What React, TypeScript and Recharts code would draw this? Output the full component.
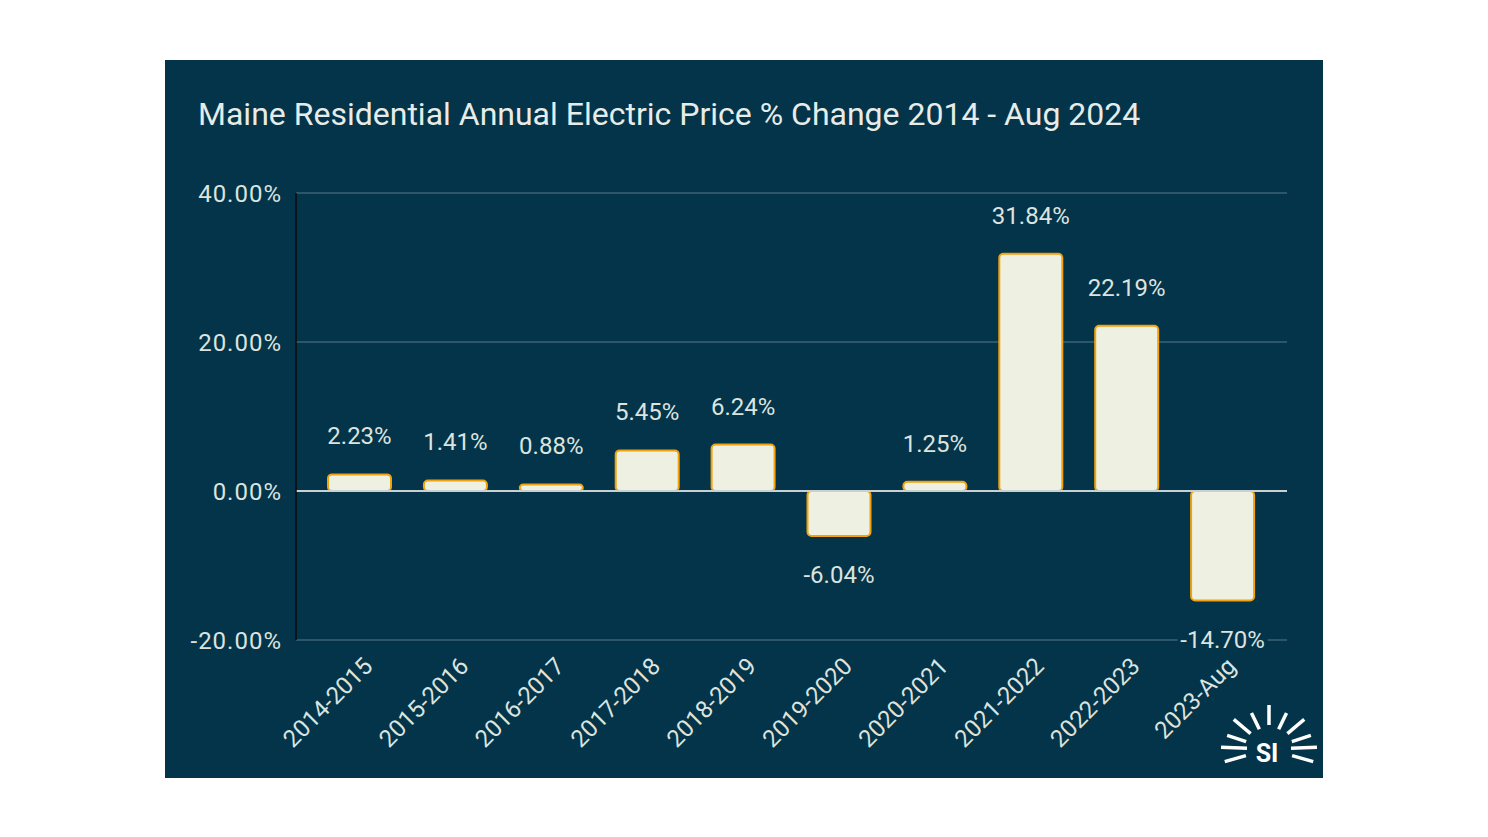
import React from "react";
import { BarChart, Bar, XAxis, YAxis, CartesianGrid, ReferenceLine, LabelList } from "recharts";

const categories = ["2014-2015", "2015-2016", "2016-2017", "2017-2018", "2018-2019", "2019-2020", "2020-2021", "2021-2022", "2022-2023", "2023-Aug"];
const changes = [2.23, 1.41, 0.88, 5.45, 6.24, -6.04, 1.25, 31.84, 22.19, -14.7];
const yTicks = [-20, 0, 20, 40];
const title = "Maine Residential Annual Electric Price % Change 2014 - Aug 2024";

const data = categories.map((c, i) => ({ name: c, value: changes[i] }));

const BG = "#03344a";
const TEXT = "#dde3df";
const FONT = "Roboto, sans-serif";

const fmt = (v: number) => `${v.toFixed(2)}%`;

const BarLabel = (props: any) => {
  const { x, y, width, height, value } = props;
  const top = Math.min(y, y + height);
  const bottom = Math.max(y, y + height);
  const cx = x + width / 2;
  const neg = value < 0;
  const ty = neg ? bottom + 47.5 : top - 30;
  const label = fmt(value);
  return (
    <g>
      {neg && (
        <rect x={cx - 45} y={ty - 20} width={90} height={26} fill={BG} />
      )}
      <text x={cx} y={ty} textAnchor="middle" fill={TEXT} fontSize={24} fontFamily={FONT}>
        {label}
      </text>
    </g>
  );
};

const XTick = (props: any) => {
  const { x, y, payload } = props;
  const ax = x + 8.5;
  const ay = y + 22;
  return (
    <text
      x={ax}
      y={ay}
      textAnchor="end"
      dominantBaseline="central"
      transform={`rotate(-45 ${ax} ${ay})`}
      fill={TEXT}
      fontSize={24}
      fontFamily={FONT}
    >
      {payload.value}
    </text>
  );
};

const rays = [
  { a: 90, r1: 24, r2: 44 },
  { a: 64, r1: 22, r2: 40 },
  { a: 116, r1: 22, r2: 40 },
  { a: 40, r1: 24, r2: 46 },
  { a: 140, r1: 24, r2: 46 },
  { a: 18, r1: 24, r2: 44 },
  { a: 162, r1: 24, r2: 44 },
  { a: 2, r1: 22, r2: 48 },
  { a: 178, r1: 22, r2: 48 },
  { a: -16, r1: 24, r2: 46 },
  { a: 196, r1: 24, r2: 46 },
];

export default function App() {
  const cx = 1104;
  const cy = 689;
  return (
    <div style={{ position: "absolute", left: 0, top: 0, width: 1488, height: 837, background: "#ffffff" }}>
      <div style={{ position: "absolute", left: 165, top: 60, width: 1158, height: 718, background: BG }}>
        <BarChart
          width={1158}
          height={718}
          data={data}
          margin={{ top: 133, right: 36, bottom: 0, left: 0 }}
        >
          <CartesianGrid horizontal vertical={false} stroke="#5d7785" strokeWidth={1.2} />
          <XAxis
            dataKey="name"
            height={138}
            padding={{ left: 16, right: 16 }}
            axisLine={false}
            tickLine={false}
            tickSize={0}
            tickMargin={0}
            interval={0}
            tick={<XTick />}
          />
          <YAxis
            width={131}
            domain={[-20, 40]}
            ticks={yTicks}
            tickFormatter={fmt}
            axisLine={{ stroke: "#0a0a0a", strokeWidth: 1.5 }}
            tickLine={false}
            tickSize={0}
            tickMargin={14}
            tick={{ fill: TEXT, fontSize: 24, fontFamily: FONT, letterSpacing: 1 }}
          />
          <ReferenceLine y={0} stroke="#c9d0d2" strokeWidth={2} />
          <Bar
            dataKey="value"
            barSize={63}
            fill="#eef0e2"
            stroke="#f2a20c"
            strokeWidth={2}
            radius={4}
            isAnimationActive={false}
          >
            <LabelList dataKey="value" content={<BarLabel />} />
          </Bar>
        </BarChart>
        <svg
          width={1158}
          height={718}
          style={{ position: "absolute", left: 0, top: 0, pointerEvents: "none" }}
        >
          <text x={33} y={65} fill="#e8ece8" fontSize={32} fontFamily={FONT}>
            {title}
          </text>
          {rays.map((ray, i) => {
            const r = (ray.a * Math.PI) / 180;
            return (
              <line
                key={i}
                x1={cx + ray.r1 * Math.cos(r)}
                y1={cy - ray.r1 * Math.sin(r)}
                x2={cx + ray.r2 * Math.cos(r)}
                y2={cy - ray.r2 * Math.sin(r)}
                stroke="#ffffff"
                strokeWidth={3.5}
              />
            );
          })}
          <text x={cx - 2} y={cy + 13} textAnchor="middle" fill="#ffffff" fontSize={25} fontWeight="bold" fontFamily={FONT}>
            SI
          </text>
        </svg>
      </div>
    </div>
  );
}
